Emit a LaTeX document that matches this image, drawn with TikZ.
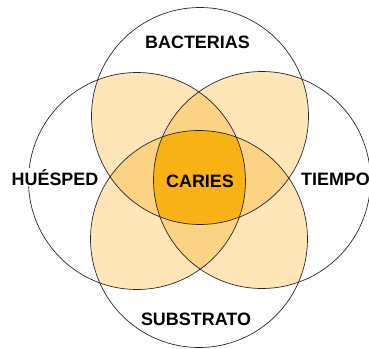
\documentclass[tikz,border=0pt]{standalone}
\usepackage{fontspec}
\setmainfont{Liberation Sans}
\definecolor{petal}{HTML}{FEE6B8}
\definecolor{triple}{HTML}{FCD385}
\definecolor{core}{HTML}{F9B215}
\newcommand{\crad}{108.5bp}
\begin{document}
\begin{tikzpicture}[x=1bp,y=-1bp,
	ring/.style={draw=black!85,line width=0.7pt},
	lbl/.style={font=\bfseries\fontsize{18}{20}\selectfont,inner sep=1pt,anchor=base}]
\useasboundingbox (0,0) rectangle (369,349);
\coordinate (bac) at (200,116);
\coordinate (sub) at (199,239);
\coordinate (hue) at (137,181);
\coordinate (tie) at (262,180);
% two circles
\begin{scope}
\clip (bac) circle (\crad);
\fill [petal] (hue) circle (\crad);
\fill [petal] (tie) circle (\crad);
\fill [petal] (sub) circle (\crad);
\end{scope}
\begin{scope}
\clip (sub) circle (\crad);
\fill [petal] (hue) circle (\crad);
\fill [petal] (tie) circle (\crad);
\end{scope}
\begin{scope}
\clip (hue) circle (\crad);
\fill [petal] (tie) circle (\crad);
\end{scope}
% three circles
\begin{scope}
\clip (bac) circle (\crad);
\clip (sub) circle (\crad);
\fill [triple] (hue) circle (\crad);
\fill [triple] (tie) circle (\crad);
\end{scope}
\begin{scope}
\clip (hue) circle (\crad);
\clip (tie) circle (\crad);
\fill [triple] (bac) circle (\crad);
\fill [triple] (sub) circle (\crad);
\end{scope}
% all four
\begin{scope}
\clip (bac) circle (\crad);
\clip (sub) circle (\crad);
\clip (hue) circle (\crad);
\fill [core] (tie) circle (\crad);
\end{scope}
\draw [ring] (bac) circle (\crad);
\draw [ring] (sub) circle (\crad);
\draw [ring] (hue) circle (\crad);
\draw [ring] (tie) circle (\crad);
\node (bacteria) [lbl] at (197.5,48) {BACTERIAS};
\node (huesped) [lbl,fill=white] at (55,185) {HUÉSPED};
\node (tiempo) [lbl,fill=white] at (335.5,185) {TIEMPO};
\node (caries) [lbl] at (200,187) {CARIES};
\node (substrato) [lbl] at (196,325) {SUBSTRATO};
\end{tikzpicture}
\end{document}
